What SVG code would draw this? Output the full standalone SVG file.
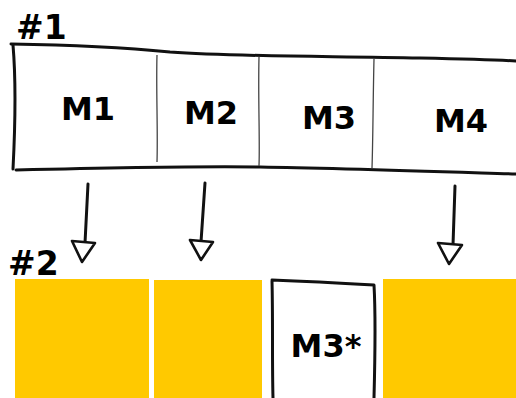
<svg xmlns="http://www.w3.org/2000/svg" width="516" height="398" viewBox="0 0 516 398">
<style>
.lbl{font-family:"DejaVu Sans",sans-serif;font-weight:bold;font-size:32px;fill:#000;text-anchor:middle}
.hdr{font-family:"DejaVu Sans",sans-serif;font-weight:bold;font-size:33px;fill:#000}
.ink{fill:none;stroke:#111;stroke-width:3;stroke-linecap:round;stroke-linejoin:round}
.thin{fill:none;stroke:#444;stroke-width:1.3}
.yel{fill:#FFC900}
.head{fill:#fff;stroke:#111;stroke-width:2.6;stroke-linejoin:round}
</style>
<rect width="516" height="398" fill="#fff"/>
<text class="hdr" x="16" y="39">#1</text>
<text class="hdr" x="8" y="275">#2</text>
<g id="top-box">
<path class="ink" d="M11,44 C80,45 130,48 170,52 C240,57 330,56 420,58 C470,59 500,60 516,61"/>
<path class="ink" d="M16,170 C100,168 200,166 260,167 C330,168 420,171 516,174"/>
<path class="ink" d="M13,45 C16,80 15,130 13,169"/>
</g>
<g id="M1"><text class="lbl" x="88" y="120">M1</text></g>
<g id="M2"><path class="thin" d="M157,55 C156,90 158,130 157,162"/><text class="lbl" x="211" y="124">M2</text></g>
<g id="M3"><path class="thin" d="M259,57 C258,100 260,140 259,166"/><text class="lbl" x="329" y="129">M3</text></g>
<g id="M4"><path class="thin" d="M374,59 C373,100 373,140 372,168"/><text class="lbl" x="461" y="132">M4</text></g>
<g id="connectors">
<path class="ink" d="M88,184 L85,243"/>
<path class="head" d="M72,241 L95,243 L82,262 Z"/>
<path class="ink" d="M205,183 L201,242"/>
<path class="head" d="M190,240 L213,242 L201,260 Z"/>
<path class="ink" d="M455,186 L453,245"/>
<path class="head" d="M438,243 L462,245 L449,264 Z"/>
</g>
<g id="B1"><rect class="yel" x="15" y="279" width="134" height="119"/></g>
<g id="B2"><rect class="yel" x="154" y="280" width="108" height="118"/></g>
<g id="M3star">
<path class="ink" d="M272,280 C300,281 340,283 374,285 C376,320 375,360 374,398 M272,281 C273,320 272,360 273,398"/>
<text class="lbl" x="326" y="357">M3*</text>
</g>
<g id="B4"><rect class="yel" x="383" y="279" width="133" height="119"/></g>
</svg>
